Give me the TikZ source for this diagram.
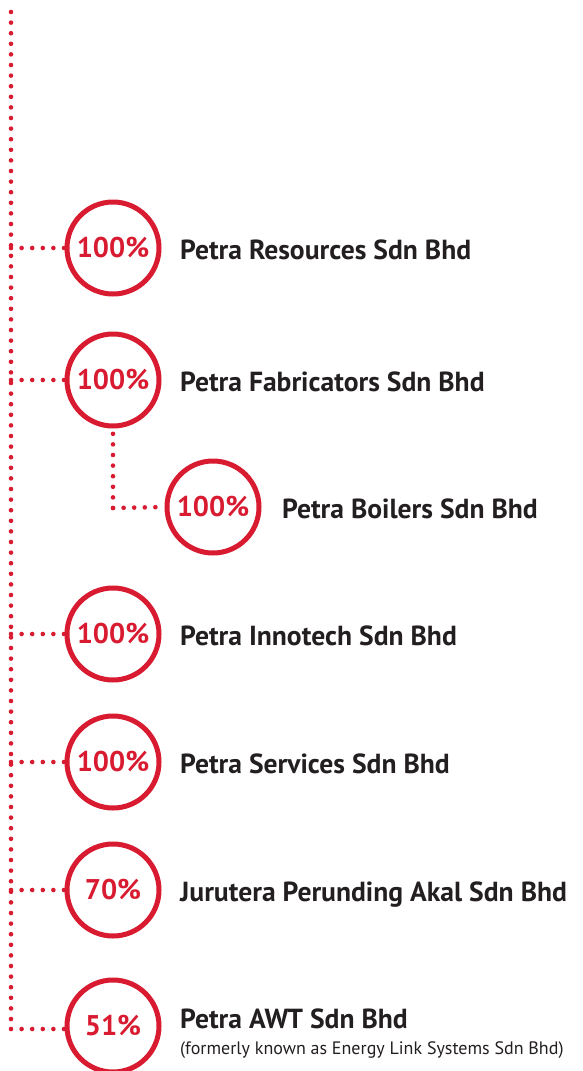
\documentclass[tikz,border=0pt]{standalone}
\usepackage{fontspec}
\setmainfont{PT Sans}
\definecolor{brandred}{HTML}{D81B30}
\definecolor{ink}{HTML}{231F20}
\begin{document}
\begin{tikzpicture}[x=1pt,y=-1pt,
  pct/.style={circle, draw=brandred, line width=5pt, minimum size=92pt,
    inner sep=0pt, text=brandred, font=\bfseries\fontsize{28.5}{28.5}\selectfont},
  company/.style={anchor=base west, text=ink, inner sep=0pt,
    font=\bfseries\fontsize{27.6}{27.6}\selectfont},
  note/.style={anchor=base west, text=ink, inner sep=0pt,
    font=\fontsize{18}{18}\selectfont},
  link/.style={draw=brandred, line width=4.6pt, line cap=round,
    dash pattern=on 0pt off 10.6pt}]
\useasboundingbox (0,0) rectangle (583,1071);
\clip (0,0) rectangle (583,1071);

% ownership circles
\node[pct] (c1) at (113,248)  {100\%};
\node[pct] (c2) at (113,380)  {100\%};
\node[pct] (c3) at (213,507)  {100\%};
\node[pct] (c4) at (113,634)  {100\%};
\node[pct] (c5) at (113,762)  {100\%};
\node[pct] (c6) at (113,890)  {70\%};
\node[pct] (c7) at (113,1026) {51\%};

% company names
\node[company] (n1) at (180,259)  {Petra Resources Sdn Bhd};
\node[company] (n2) at (180,391)  {Petra Fabricators Sdn Bhd};
\node[company] (n3) at (282,518)  {Petra Boilers Sdn Bhd};
\node[company] (n4) at (180,645)  {Petra Innotech Sdn Bhd};
\node[company] (n5) at (180,773)  {Petra Services Sdn Bhd};
\node[company] (n6) at (180,901)  {Jurutera Perunding Akal Sdn Bhd};
\node[company] (n7) at (180,1028) {Petra AWT Sdn Bhd};
\node[note] (n7b) at (180,1054) {(formerly known as Energy Link Systems Sdn Bhd)};

% main dotted spine and its junctions
\coordinate (top) at (11,12);
\coordinate (j1) at (11,248);
\coordinate (j2) at (11,380);
\coordinate (j4) at (11,634);
\coordinate (j5) at (11,762);
\coordinate (j6) at (11,890);
\coordinate (j7) at (11,1029);
\path[link] (top) -- (j7);
\path[link] (j1) -- (c1.west);
\path[link] (j2) -- (c2.west);
\path[link] (j4) -- (c4.west);
\path[link] (j5) -- (c5.west);
\path[link] (j6) -- (c6.west);
\path[link] (j7) -- (c7.west |- j7);

% branch from the fabricators to the boilers
\coordinate (b) at (113,508);
\path[link] (b) -- (c2.south);
\path[link] (b) -- (c3.west);
\end{tikzpicture}
\end{document}
